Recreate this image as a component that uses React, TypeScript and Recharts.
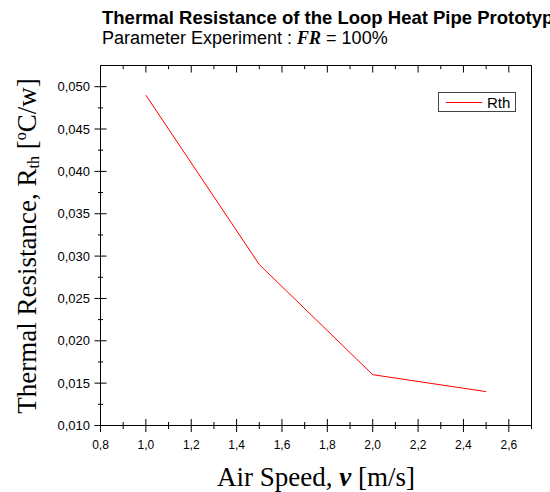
import { LineChart, Line, XAxis, YAxis, Legend, Label } from 'recharts'

const speed = [1.0, 1.5, 2.0, 2.5]
const rth = [0.049, 0.029, 0.016, 0.014]

const xMajorTicks = [0.8, 1.0, 1.2, 1.4, 1.6, 1.8, 2.0, 2.2, 2.4, 2.6]
const xMinorTicks = [0.9, 1.1, 1.3, 1.5, 1.7, 1.9, 2.1, 2.3, 2.5, 2.7]
const yMajorTicks = [0.010, 0.015, 0.020, 0.025, 0.030, 0.035, 0.040, 0.045, 0.050]
const yMinorTicks = [0.0125, 0.0175, 0.0225, 0.0275, 0.0325, 0.0375, 0.0425, 0.0475]

const data = speed.map((v, i) => ({ speed: v, rth: rth[i] }))

const sans = '"Liberation Sans", Arial, sans-serif'
const serif = '"Liberation Serif", "Times New Roman", serif'

const isMajor = (list: number[], v: number) => list.some((m) => Math.abs(m - v) < 1e-9)
const comma = (v: number, d: number) => v.toFixed(d).replace('.', ',')

const BottomTick = (props: any) => {
  const { x, y, payload } = props
  const major = isMajor(xMajorTicks, payload.value)
  const len = major ? 6.5 : 3.5
  return (
    <g>
      <line x1={x} x2={x} y1={y - len} y2={y + len} stroke="#000" />
      {major && (
        <text x={x} y={y + 23} textAnchor="middle" fontFamily={sans} fontSize={12} fill="#000">
          {comma(payload.value, 1)}
        </text>
      )}
    </g>
  )
}

const TopTick = (props: any) => {
  const { x, y, payload } = props
  const major = isMajor(xMajorTicks, payload.value)
  return <line x1={x} x2={x} y1={y} y2={y + (major ? 7 : 3.7)} stroke="#000" />
}

const LeftTick = (props: any) => {
  const { x, y, payload } = props
  const major = isMajor(yMajorTicks, payload.value)
  const len = major ? 6 : 2.5
  return (
    <g>
      <line x1={x - len} x2={x + len} y1={y} y2={y} stroke="#000" />
      {major && (
        <text x={x - 10.5} y={y + 4.5} textAnchor="end" fontFamily={sans} fontSize={13} fill="#000">
          {comma(payload.value, 3)}
        </text>
      )}
    </g>
  )
}

const RightTick = (props: any) => {
  const { x, y, payload } = props
  const major = isMajor(yMajorTicks, payload.value)
  return major
    ? <line x1={x - 5} x2={x + 5} y1={y} y2={y} stroke="#000" />
    : <line x1={x - 4} x2={x} y1={y} y2={y} stroke="#000" />
}

const LegendBox = () => (
  <div
    style={{
      width: 78,
      height: 20,
      boxSizing: 'border-box',
      border: '1px solid #444',
      background: '#fff',
      display: 'flex',
      alignItems: 'center',
      fontFamily: sans,
      fontSize: 15,
    }}
  >
    <span style={{ display: 'inline-block', width: 36, height: 1, background: '#ff0000', marginLeft: 7, marginRight: 5 }} />
    <span>Rth</span>
  </div>
)

export default function App() {
  const xTicks = [...xMajorTicks, ...xMinorTicks].sort((a, b) => a - b)
  const yTicks = [...yMajorTicks, ...yMinorTicks].sort((a, b) => a - b)
  return (
    <div style={{ position: 'absolute', left: 0, top: 0, width: 550, height: 492, overflow: 'hidden', background: '#fff' }}>
      <div style={{ position: 'absolute', left: 102, top: 7, whiteSpace: 'nowrap', fontFamily: sans, color: '#000' }}>
        <div style={{ fontSize: 18.5, fontWeight: 'bold', lineHeight: '21px' }}>
          Thermal Resistance of the Loop Heat Pipe Prototype
        </div>
        <div style={{ fontSize: 18, lineHeight: '21px' }}>
          Parameter Experiment : <span style={{ fontFamily: serif, fontWeight: 'bold', fontStyle: 'italic' }}>FR</span> = 100%
        </div>
      </div>
      <LineChart width={550} height={492} data={data} margin={{ top: 0, right: 0, bottom: 0, left: 0 }}>
        <XAxis
          dataKey="speed"
          type="number"
          domain={[0.8, 2.7]}
          ticks={xTicks}
          interval={0}
          tick={<BottomTick />}
          tickSize={0}
          tickMargin={0}
          axisLine={{ stroke: '#000' }}
          height={66.5}
        >
          <Label
            content={() => (
              <text x={316} y={486} textAnchor="middle" fontFamily={serif} fontSize={27} fill="#000">
                Air Speed, <tspan fontWeight="bold" fontStyle="italic">v</tspan> [m/s]
              </text>
            )}
          />
        </XAxis>
        <XAxis
          xAxisId="top"
          orientation="top"
          dataKey="speed"
          type="number"
          domain={[0.8, 2.7]}
          ticks={xTicks}
          interval={0}
          tick={<TopTick />}
          tickSize={0}
          tickMargin={0}
          axisLine={{ stroke: '#000' }}
          height={65.5}
        />
        <YAxis
          type="number"
          domain={[0.01, 0.0525]}
          ticks={yTicks}
          interval={0}
          tick={<LeftTick />}
          tickSize={0}
          tickMargin={0}
          axisLine={{ stroke: '#000' }}
          width={100.5}
        >
          <Label
            content={() => (
              <text
                transform="translate(36,246) rotate(-90)"
                textAnchor="middle"
                fontFamily={serif}
                fontSize={27}
                fill="#000"
              >
                Thermal Resistance, R<tspan fontSize={16} dy={3}>th</tspan>
                <tspan dy={-3}> [</tspan>
                <tspan fontSize={16} dy={-10}>o</tspan>
                <tspan dy={10}>C/w]</tspan>
              </text>
            )}
          />
        </YAxis>
        <YAxis
          yAxisId="right"
          orientation="right"
          type="number"
          domain={[0.01, 0.0525]}
          ticks={yTicks}
          interval={0}
          tick={<RightTick />}
          tickSize={0}
          tickMargin={0}
          axisLine={{ stroke: '#000' }}
          width={18.5}
        />
        <Legend
          layout="vertical"
          align="center"
          verticalAlign="middle"
          content={<LegendBox />}
          wrapperStyle={{ left: 438, top: 92, width: 78, height: 20 }}
        />
        <Line
          type="linear"
          dataKey="rth"
          stroke="#ff0000"
          strokeWidth={1}
          dot={false}
          isAnimationActive={false}
        />
      </LineChart>
    </div>
  )
}
